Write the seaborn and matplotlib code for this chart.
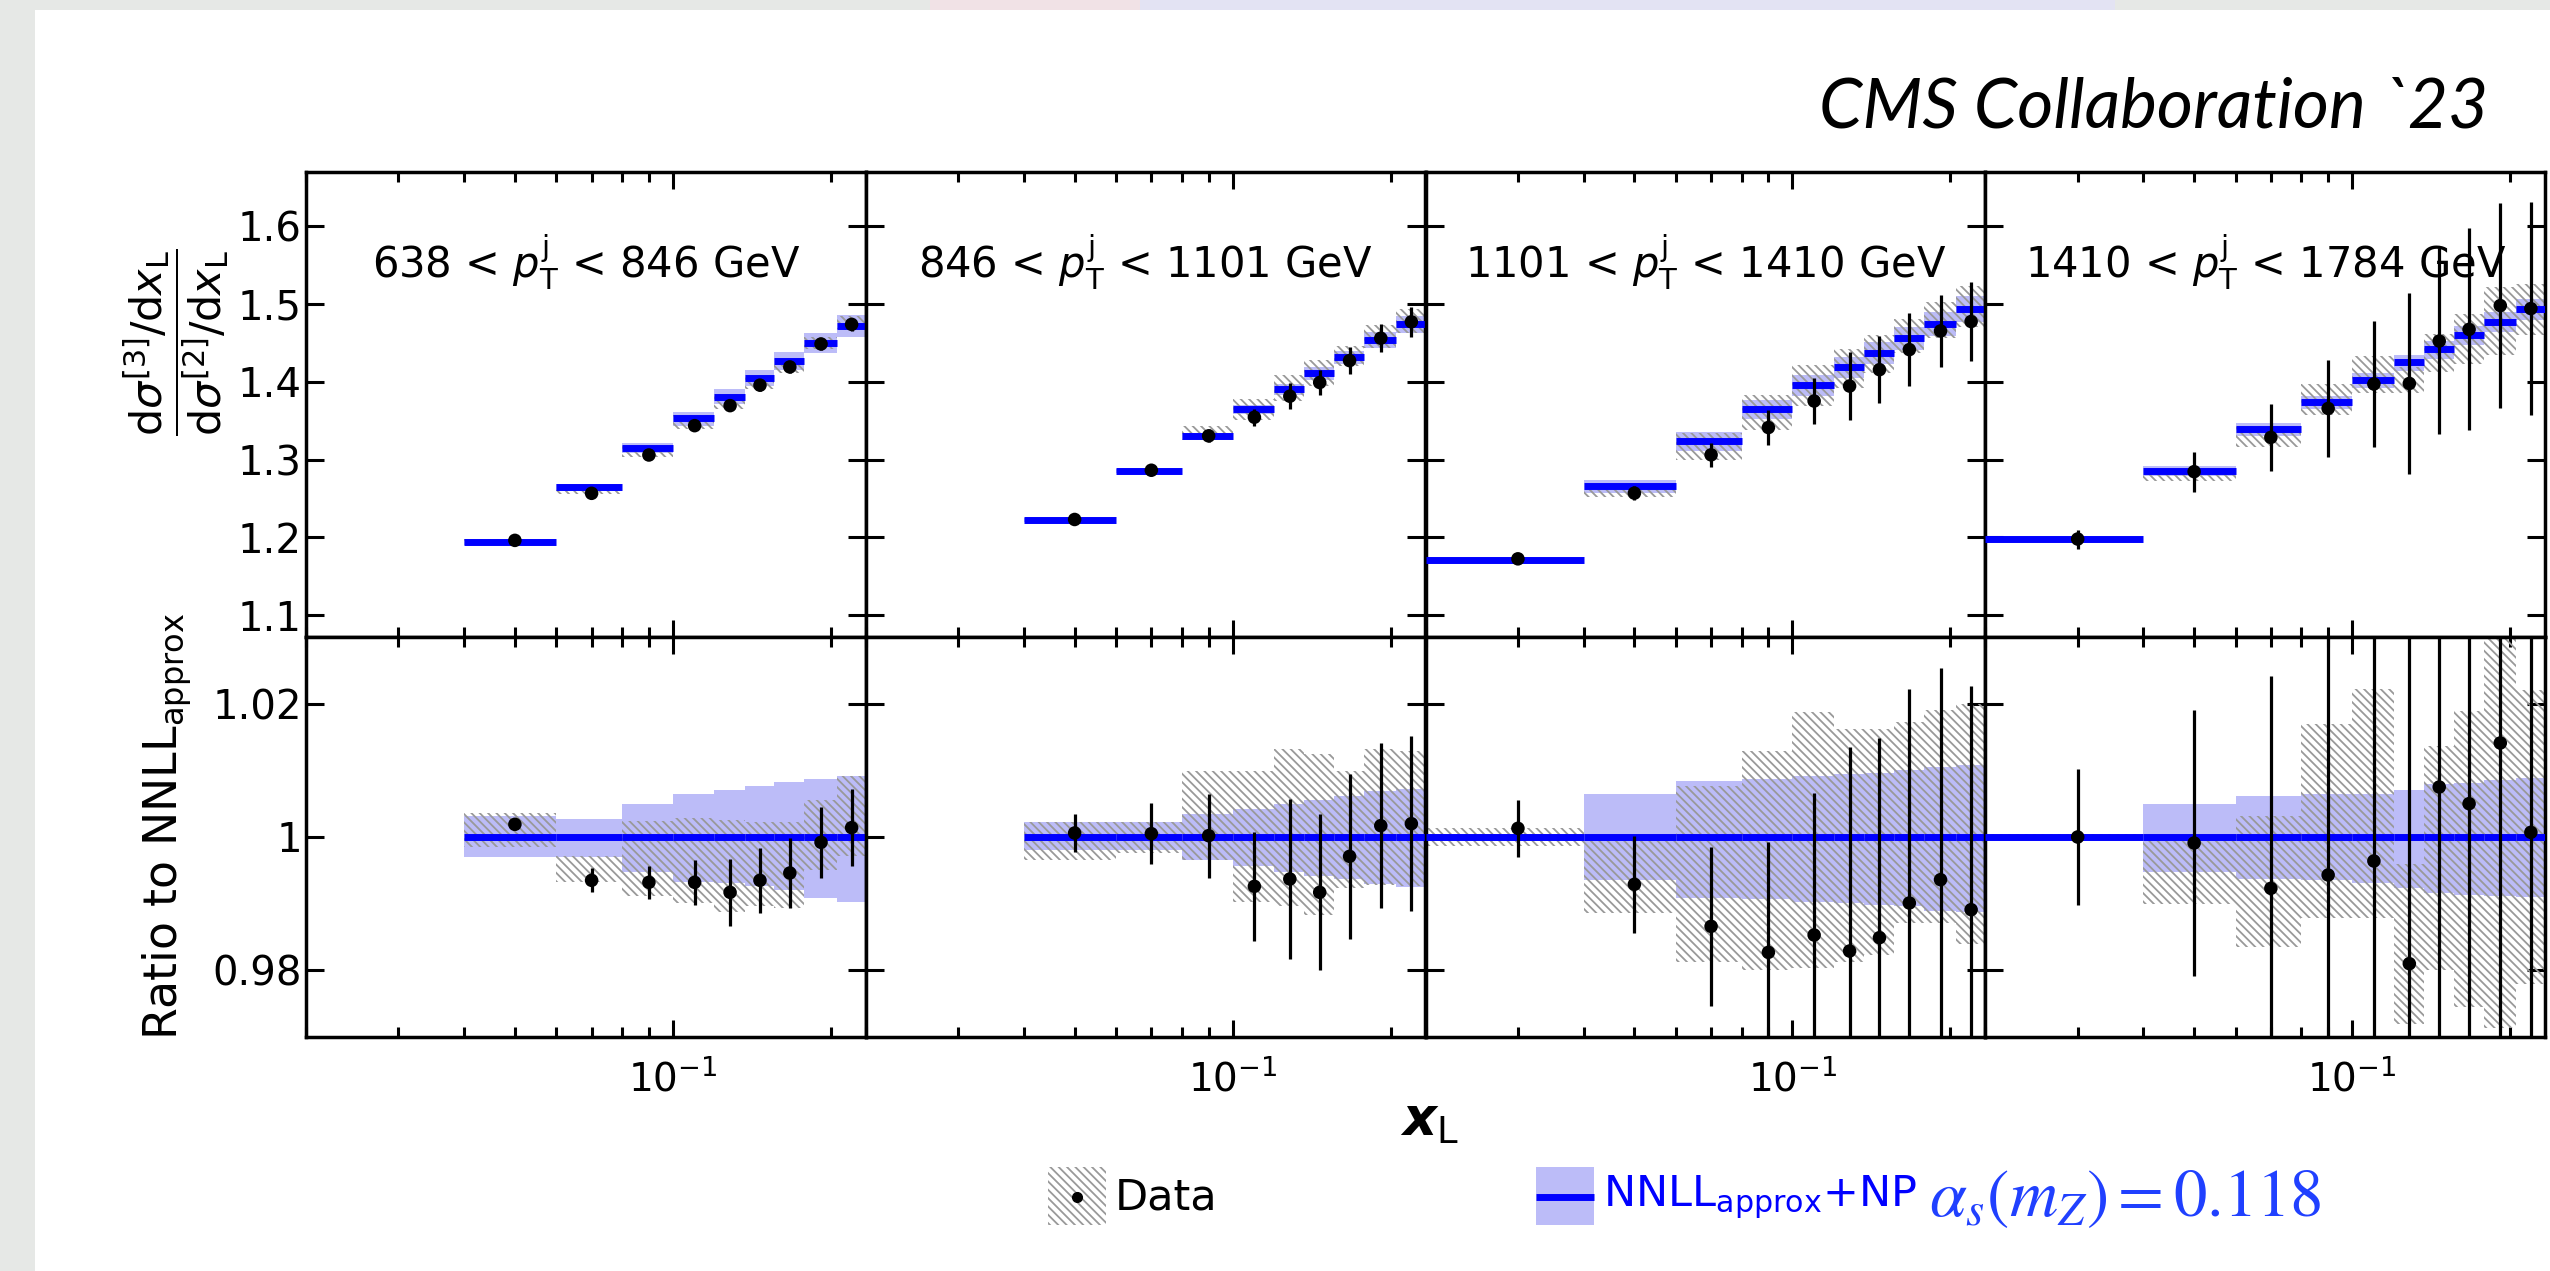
import numpy as np
import pandas as pd
import matplotlib
matplotlib.use("Agg")
import matplotlib.pyplot as plt
import seaborn as sns
from matplotlib.patches import Rectangle
from matplotlib.lines import Line2D
from matplotlib.ticker import FixedLocator, FixedFormatter, NullFormatter

# ---------------- data ----------------
XLIM = (0.02, 0.233)
EDGES_A = [0.04, 0.06, 0.08, 0.10, 0.12, 0.137, 0.156, 0.178, 0.205, 0.233]
EDGES_B = [0.02, 0.04, 0.06, 0.08, 0.10, 0.12, 0.137, 0.156, 0.178, 0.205, 0.233]

PANEL_LABELS = [r"638 < $p_{\mathrm{T}}^{\mathrm{j}}$ < 846 GeV",
                r"846 < $p_{\mathrm{T}}^{\mathrm{j}}$ < 1101 GeV",
                r"1101 < $p_{\mathrm{T}}^{\mathrm{j}}$ < 1410 GeV",
                r"1410 < $p_{\mathrm{T}}^{\mathrm{j}}$ < 1784 GeV"]

# panel 1
theory1 = [1.194, 1.265, 1.315, 1.353, 1.381, 1.405, 1.427, 1.450, 1.472]
ratio1 = [1.0019, 0.9935, 0.9932, 0.9932, 0.9917, 0.9935, 0.9946, 0.9992, 1.0014]
stat1 = [0.0007, 0.0018, 0.0025, 0.0034, 0.0050, 0.0049, 0.0053, 0.0053, 0.0058]
thup1 = [0.0031, 0.0027, 0.0050, 0.0064, 0.0071, 0.0076, 0.0083, 0.0087, 0.0092]
thdn1 = [0.0030, 0.0030, 0.0052, 0.0067, 0.0069, 0.0074, 0.0079, 0.0092, 0.0098]
syshi1 = [1.0036, 0.9971, 1.0024, 1.0029, 1.0026, 1.0022, 1.0022, 1.0056, 1.0091]
syslo1 = [0.9985, 0.9932, 0.9911, 0.9901, 0.9888, 0.9896, 0.9893, 0.9951, 0.9971]

# panel 2
theory2 = [1.2224, 1.2858, 1.3304, 1.3647, 1.3904, 1.4110, 1.4316, 1.4538, 1.4744]
ratio2 = [1.0006, 1.0005, 1.0002, 0.9926, 0.9937, 0.9917, 0.9971, 1.0017, 1.0020]
stat2 = [0.0029, 0.0046, 0.0063, 0.0082, 0.0120, 0.0117, 0.0124, 0.0124, 0.0131]
thup2 = [0.0022, 0.0022, 0.0034, 0.0042, 0.0049, 0.0056, 0.0061, 0.0069, 0.0072]
thdn2 = [0.0020, 0.0020, 0.0035, 0.0044, 0.0052, 0.0059, 0.0063, 0.0071, 0.0075]
syshi2 = [1.0022, 1.0022, 1.0099, 1.0099, 1.0132, 1.0124, 1.0099, 1.0132, 1.0129]
syslo2 = [0.9966, 0.9976, 0.9966, 0.9903, 0.9896, 0.9883, 0.9923, 0.9928, 0.9926]

# panel 3
theory3 = [1.171, 1.266, 1.324, 1.365, 1.396, 1.419, 1.4375, 1.456, 1.475, 1.494]
ratio3 = [1.0013, 0.9929, 0.9866, 0.9827, 0.9853, 0.9829, 0.9849, 0.9901, 0.9936, 0.9891]
stat3 = [0.0043, 0.0073, 0.0119, 0.0165, 0.0213, 0.0306, 0.0300, 0.0321, 0.0317, 0.0336]
thup3 = [0.0004, 0.0065, 0.0084, 0.0087, 0.0091, 0.0094, 0.0096, 0.0101, 0.0105, 0.0108]
thdn3 = [0.0004, 0.0065, 0.0092, 0.0093, 0.0097, 0.0099, 0.0102, 0.0104, 0.0111, 0.0113]
syshi3 = [1.0014, 0.9998, 1.0076, 1.0129, 1.0187, 1.0162, 1.0162, 1.0172, 1.0190, 1.0200]
syslo3 = [0.9986, 0.9886, 0.9813, 0.9800, 0.9803, 0.9813, 0.9823, 0.9871, 0.9871, 0.9840]

# panel 4
theory4 = [1.198, 1.2858, 1.339, 1.3737, 1.4024, 1.4251, 1.4418, 1.4603, 1.4774, 1.4933]
ratio4 = [1.0000, 0.9991, 0.9923, 0.9943, 0.9964, 0.9810, 1.0075, 1.0050, 1.0141, 1.0007]
stat4 = [0.0102, 0.0199, 0.0318, 0.045, 0.058, 0.082, 0.083, 0.089, 0.089, 0.092]
thup4 = [0.0003, 0.0050, 0.0061, 0.0064, 0.0064, 0.0071, 0.0079, 0.0081, 0.0085, 0.0088]
thdn4 = [0.0003, 0.0052, 0.0063, 0.0064, 0.0069, 0.0077, 0.0084, 0.0087, 0.0089, 0.0090]
syshi4 = [1.0004, 0.9996, 1.0031, 1.0169, 1.0222, 0.9960, 1.0137, 1.0189, 1.0300, 1.0220]
syslo4 = [0.9996, 0.9900, 0.9835, 0.9878, 0.9878, 0.9720, 0.9800, 0.9745, 0.9713, 0.9780]

TOP_YTICKS = [1.1, 1.2, 1.3, 1.4, 1.5, 1.6]
TOP_YLABELS = ["1.1", "1.2", "1.3", "1.4", "1.5", "1.6"]
RAT_YTICKS = [0.98, 1.0, 1.02]
RAT_YLABELS = ["0.98", "1", "1.02"]
X_MINOR = [0.02, 0.03, 0.04, 0.05, 0.06, 0.07, 0.08, 0.09, 0.2]

# ---------------- style ----------------
sns.set_theme(style="ticks")
plt.rcParams['font.family'] = ['DejaVu Sans']
plt.rcParams['mathtext.fontset'] = 'custom'
plt.rcParams['mathtext.rm'] = 'DejaVu Sans'
plt.rcParams['mathtext.it'] = 'DejaVu Sans:italic'
plt.rcParams['mathtext.bf'] = 'DejaVu Sans:bold:italic'
plt.rcParams['mathtext.sf'] = 'DejaVu Sans'
plt.rcParams['hatch.linewidth'] = 1.3
plt.rcParams['axes.edgecolor'] = 'black'
plt.rcParams['xtick.color'] = 'black'
plt.rcParams['ytick.color'] = 'black'
plt.rcParams['text.color'] = 'black'

BLUE = '#0000ff'
BAND = '#bcbcf8'
HATCH = '#999999'
HATCH_PAT = '\\\\\\\\'

W, H = 2550, 1271
fig = plt.figure(figsize=(25.5, 12.71), dpi=100, facecolor='#e6e8e6')
fig.add_artist(Rectangle((35 / W, 0), 1, 1 - 10 / H, transform=fig.transFigure,
                         facecolor='white', edgecolor='none', zorder=-10))
fig.add_artist(Rectangle((930 / W, 1 - 10 / H), 210 / W, 10 / H, transform=fig.transFigure,
                         facecolor='#f1e2e6', edgecolor='none', zorder=-10))
fig.add_artist(Rectangle((1140 / W, 1 - 10 / H), 975 / W, 10 / H, transform=fig.transFigure,
                         facecolor='#e3e3f3', edgecolor='none', zorder=-10))

left, right = 306 / W, 2545 / W
y_top_hi, y_mid, y_bot = 1 - 172 / H, 1 - 637 / H, 1 - 1037 / H
pw = (right - left) / 4

panels = [
    (EDGES_A, theory1, ratio1, stat1, thup1, thdn1, syshi1, syslo1),
    (EDGES_A, theory2, ratio2, stat2, thup2, thdn2, syshi2, syslo2),
    (EDGES_B, theory3, ratio3, stat3, thup3, thdn3, syshi3, syslo3),
    (EDGES_B, theory4, ratio4, stat4, thup4, thdn4, syshi4, syslo4),
]


def style_axes(ax):
    ax.set_xscale('log')
    ax.set_xlim(*XLIM)
    ax.xaxis.set_major_locator(FixedLocator([0.1]))
    ax.xaxis.set_minor_locator(FixedLocator(X_MINOR))
    ax.xaxis.set_minor_formatter(NullFormatter())
    ax.tick_params(which='both', direction='in', top=True, bottom=True, left=True, right=True)
    ax.tick_params(axis='x', which='major', length=12, width=2.2)
    ax.tick_params(axis='x', which='minor', length=7, width=2.2)
    ax.tick_params(axis='y', which='major', length=13, width=2.2, pad=3, labelsize=29)
    ax.tick_params(axis='y', which='minor', length=0)
    for sp in ax.spines.values():
        sp.set_linewidth(2.5)
        sp.set_color('black')
        sp.set_visible(True)


def stepped(vals):
    v = np.asarray(vals, dtype=float)
    return np.append(v, v[-1])


for i, (edges, th, r, st, tu, td, sh, sl) in enumerate(panels):
    x0 = left + i * pw
    ax_t = fig.add_axes([x0, y_mid, pw, y_top_hi - y_mid])
    ax_r = fig.add_axes([x0, y_bot, pw, y_mid - y_bot])
    for ax in (ax_t, ax_r):
        style_axes(ax)

    e = np.asarray(edges)
    xc = 0.5 * (e[:-1] + e[1:])
    th = np.asarray(th); r = np.asarray(r); st = np.asarray(st)
    tu = np.asarray(tu); td = np.asarray(td); sh = np.asarray(sh); sl = np.asarray(sl)

    # ---- top panel ----
    ax_t.fill_between(e, stepped(th * (1 - td)), stepped(th * (1 + tu)), step='post',
                      color=BAND, lw=0, zorder=1)
    ax_t.fill_between(e, stepped(th * sl), stepped(th * sh), step='post',
                      facecolor='none', edgecolor=HATCH, hatch=HATCH_PAT, lw=0, zorder=2)
    ax_t.hlines(th, e[:-1], e[1:], color=BLUE, lw=5, zorder=3)
    ax_t.errorbar(xc, th * r, yerr=st * th, fmt='none', ecolor='black', elinewidth=2.3,
                  capsize=0, zorder=4)
    df_t = pd.DataFrame({'x': xc, 'y': th * r})
    sns.scatterplot(data=df_t, x='x', y='y', ax=ax_t, color='black', s=95,
                    edgecolor='none', legend=False, zorder=5)
    ax_t.set_ylim(1.072, 1.670)
    ax_t.yaxis.set_major_locator(FixedLocator(TOP_YTICKS))
    ax_t.tick_params(axis='x', labelbottom=False)
    ax_t.text(0.5, 0.772, PANEL_LABELS[i], transform=ax_t.transAxes, ha='center',
              va='baseline', fontsize=30)

    # ---- ratio panel ----
    ax_r.fill_between(e, stepped(1 - td), stepped(1 + tu), step='post',
                      color=BAND, lw=0, zorder=1)
    ax_r.fill_between(e, stepped(sl), stepped(sh), step='post',
                      facecolor='none', edgecolor=HATCH, hatch=HATCH_PAT, lw=0, zorder=2)
    ax_r.hlines(np.ones_like(th), e[:-1], e[1:], color=BLUE, lw=5, zorder=3)
    ax_r.errorbar(xc, r, yerr=st, fmt='none', ecolor='black', elinewidth=2.3,
                  capsize=0, zorder=4)
    df_r = pd.DataFrame({'x': xc, 'y': r})
    sns.scatterplot(data=df_r, x='x', y='y', ax=ax_r, color='black', s=95,
                    edgecolor='none', legend=False, zorder=5)
    ax_r.set_ylim(0.970, 1.030)
    ax_r.yaxis.set_major_locator(FixedLocator(RAT_YTICKS))
    ax_r.xaxis.set_major_formatter(FixedFormatter([r'$10^{-1}$']))
    ax_r.tick_params(axis='x', which='major', labelsize=28, pad=16)

    for ax in (ax_t, ax_r):
        ax.set_xlabel('')
        ax.set_ylabel('')
    if i == 0:
        ax_t.yaxis.set_major_formatter(FixedFormatter(TOP_YLABELS))
        ax_r.yaxis.set_major_formatter(FixedFormatter(RAT_YLABELS))
    else:
        ax_t.tick_params(axis='y', labelleft=False)
        ax_r.tick_params(axis='y', labelleft=False)

# ---------------- axis titles ----------------
fig.text(176 / W, 1 - 342 / H,
         r"$\dfrac{\mathrm{d}\sigma^{[3]}/\mathrm{d}x_{\mathrm{L}}}{\mathrm{d}\sigma^{[2]}/\mathrm{d}x_{\mathrm{L}}}$",
         rotation=90, ha='center', va='center', fontsize=31)
fig.text(167 / W, 1 - 826 / H, r"Ratio to NNLL$_{\mathrm{approx}}$", rotation=90,
         ha='center', va='center', fontsize=33)
fig.text(1430 / W, 1 - 1120 / H, r"$\mathbf{x}_{\mathrm{L}}$", ha='center', va='center',
         fontsize=38)

fig.text(2488 / W, 1 - 127 / H, "CMS Collaboration `23", ha='right', va='baseline',
         fontsize=50, style='italic', family=['Lato', 'DejaVu Sans'])

# ---------------- legend ----------------
ly = 1 - 1197 / H
fig.add_artist(Rectangle((1048 / W, 1 - 1225 / H), 58 / W, 58 / H, transform=fig.transFigure,
                         facecolor='white', edgecolor=HATCH, hatch=HATCH_PAT, lw=0))
fig.add_artist(Line2D([1077 / W], [ly], marker='o', ms=7, color='black', lw=0,
                      transform=fig.transFigure))
fig.text(1115 / W, ly, "Data", va='center', ha='left', fontsize=31)

fig.add_artist(Rectangle((1536 / W, 1 - 1225 / H), 58 / W, 58 / H, transform=fig.transFigure,
                         facecolor=BAND, edgecolor='none', lw=0))
fig.add_artist(Line2D([1536 / W, 1594 / W], [ly, ly], lw=5, color=BLUE,
                      transform=fig.transFigure, solid_capstyle='butt'))
fig.text(1603 / W, ly, r"NNLL$_{\mathrm{approx}}$+NP", va='center', ha='left',
         fontsize=31, color=BLUE)
fig.text(1929 / W, ly, r"$\alpha_s(m_Z) = 0.118$", va='center', ha='left',
         fontsize=48, color='#2040ff', math_fontfamily='stix')

fig.savefig('out.png', dpi=100, facecolor=fig.get_facecolor())
